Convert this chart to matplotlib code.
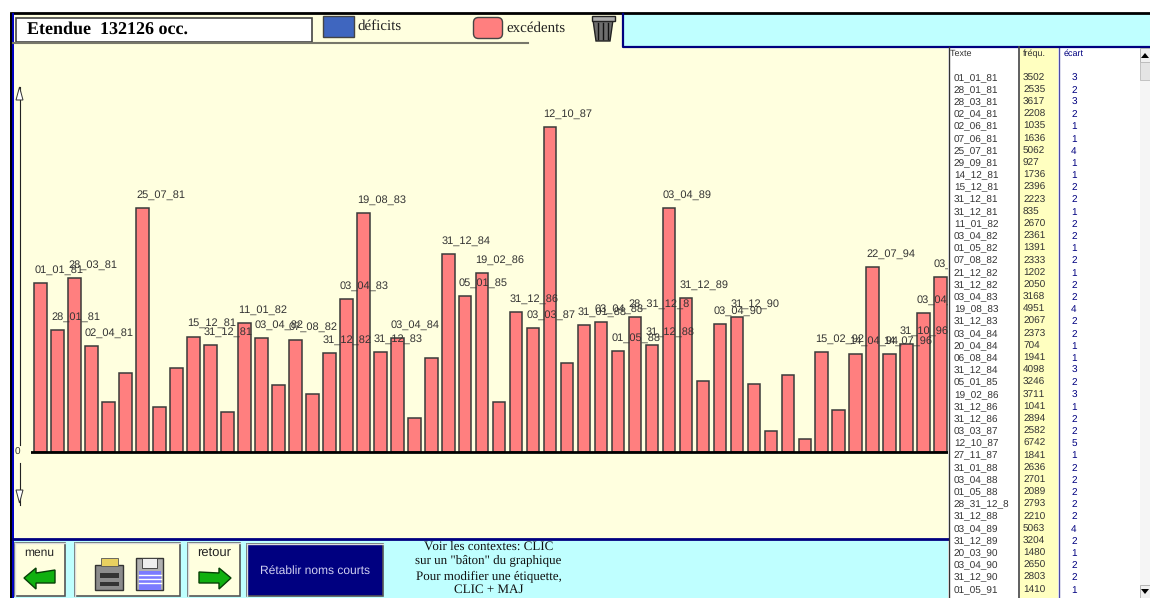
import matplotlib
matplotlib.use('Agg')
import matplotlib.pyplot as plt
from matplotlib.patches import Rectangle, FancyBboxPatch, Polygon

# valeurs lues dans le tableau de droite
textes = ['01_01_81', '28_01_81', '28_03_81', '02_04_81', '02_06_81', '07_06_81', '25_07_81', '29_09_81',
          '14_12_81', '15_12_81', '31_12_81', '31_12_81', '11_01_82', '03_04_82', '01_05_82', '07_08_82',
          '21_12_82', '31_12_82', '03_04_83', '19_08_83', '31_12_83', '03_04_84', '20_04_84', '06_08_84',
          '31_12_84', '05_01_85', '19_02_86', '31_12_86', '31_12_86', '03_03_87', '12_10_87', '27_11_87',
          '31_01_88', '03_04_88', '01_05_88', '28_31_12_8', '31_12_88', '03_04_89', '31_12_89', '20_03_90',
          '03_04_90', '31_12_90', '01_05_91']
frequ = [3502, 2535, 3617, 2208, 1035, 1636, 5062, 927, 1736, 2396, 2223, 835, 2670, 2361, 1391, 2333,
         1202, 2050, 3168, 4951, 2067, 2373, 704, 1941, 4098, 3246, 3711, 1041, 2894, 2582, 6742, 1841,
         2636, 2701, 2089, 2793, 2210, 5063, 3204, 1480, 2650, 2803, 1410]
ecart = [3, 2, 3, 2, 1, 1, 4, 1, 1, 2, 2, 1, 2, 2, 1, 2, 1, 2, 2, 4, 2, 2, 1, 1, 3, 2, 3, 1, 2, 2, 5, 1,
         2, 2, 2, 2, 2, 4, 2, 1, 2, 2, 1]

# batons hors du tableau visible (hauteurs estimees sur le graphique)
autres_noms = ['', '', '', '15_02_92', '', '14_04_94', '22_07_94', '14_07_96', '31_10_96', '03_04_97', '03_04_97']
autres_val = [430, 1600, 275, 2075, 865, 2025, 3840, 2025, 2250, 2885, 3630]
autres_ecart = [1, 1, 1, 2, 1, 2, 3, 2, 2, 2, 3]

noms = textes + autres_noms
valeurs = frequ + autres_val
ecarts = ecart + autres_ecart

CYAN = '#BFFFFF'
JAUNE = '#FFFFDF'
ROSE = '#FF7F7F'
NAVY = '#000080'

plt.rcParams['font.family'] = ['Liberation Sans', 'DejaVu Sans']
plt.rcParams['text.hinting'] = 'no_hinting'
plt.rcParams['text.hinting_factor'] = 1

fig = plt.figure(figsize=(11.5, 5.98), dpi=100, facecolor='white')

# fond : un axe en pixels pour l'interface
ui = fig.add_axes([0, 0, 1, 1])
ui.set_xlim(0, 1150)
ui.set_ylim(598, 0)
ui.axis('off')


def rect(x0, y0, x1, y1, fc, ec='none', lw=0, z=1):
    ui.add_patch(Rectangle((x0, y0), x1 - x0, y1 - y0, fc=fc, ec=ec, lw=lw, zorder=z))


def bouton(x0, y0, x1, y1, fc=JAUNE):
    rect(x0, y0, x1, y1, fc, ec='#555555', lw=1.2, z=3)
    ui.plot([x0, x1], [y0, y0], color='#DDDDDD', lw=1, zorder=4)
    ui.plot([x0, x0], [y0, y1], color='#DDDDDD', lw=1, zorder=4)


rect(13, 14, 948, 539, JAUNE)
rect(13, 539, 948, 598, CYAN)
rect(623, 14, 1150, 47, CYAN)
rect(949, 47, 1140, 598, 'white')
rect(1020, 47, 1058, 598, '#FFFFC0')
rect(1140, 47, 1150, 598, '#F5F5F5')

# cadres
ui.plot([10.5, 1150], [13, 13], color='black', lw=2, zorder=5)
rect(10, 13, 12, 598, 'black', z=5)
rect(12, 13, 13.5, 598, '#0000C0', z=5)
ui.plot([13, 948], [538.5, 538.5], color=NAVY, lw=2, zorder=5)
ui.plot([623, 623, 1150], [14, 46.5, 46.5], color=NAVY, lw=1.6, zorder=5)
ui.plot([13, 528], [43, 43], color='#77776A', lw=1.5, zorder=5)
ui.plot([948.5, 948.5], [47, 598], color='#333333', lw=1, zorder=5)
ui.plot([1019, 1019], [47, 598], color='#444444', lw=1.2, zorder=5)
ui.plot([1059, 1059], [47, 598], color=NAVY, lw=1, alpha=.7, zorder=5)

# titre et legende
rect(16, 18, 312, 42, 'white', ec='#444444', lw=1.2, z=3)
ui.text(27, 29, 'Etendue  132126 occ.', family='Liberation Serif', weight='bold', fontsize=12.9,
        color='black', va='center', zorder=6)
rect(323, 16, 354, 37, '#3F66BF', ec='#444444', lw=1, z=3)
ui.text(357.5, 26, 'déficits', family='Liberation Serif', fontsize=10.6, color='#222222', va='center', zorder=6)
ui.add_patch(FancyBboxPatch((476, 20), 24, 16, boxstyle='round,pad=2.5,rounding_size=5', fc=ROSE, ec='#444444',
                            lw=1, zorder=3))
ui.text(506, 28, 'excédents', family='Liberation Serif', fontsize=10.6, color='#222222', va='center', zorder=6)

# corbeille
ui.add_patch(Polygon([(593, 20), (613, 20), (610, 41), (596, 41)], fc='#6E6E6E', ec='#222222', lw=1, zorder=4))
ui.add_patch(Rectangle((591.5, 16), 23, 4.5, fc='#AAAAAA', ec='#222222', lw=1, zorder=5))
for xb in [598, 603, 608]:
    ui.plot([xb, xb], [23, 39], color='#111111', lw=1, zorder=5)

# axe vertical
ui.plot([19.5, 19.5], [87, 445], color='#222222', lw=.8, zorder=3)
ui.plot([19.5, 19.5], [463, 505], color='#222222', lw=.8, zorder=3)
ui.add_patch(Polygon([(19.5, 87), (16, 100), (23, 100)], fc='white', ec='#333333', lw=.7, zorder=3))
ui.add_patch(Polygon([(19.5, 503), (16, 490), (23, 490)], fc='white', ec='#333333', lw=.7, zorder=3))
ui.text(17, 452, '0', fontsize=7, color='#333333', ha='center', va='center', zorder=6)

# boutons du bas
bouton(15, 543, 65, 596)
bouton(75, 543, 180, 596)
bouton(188, 543, 240, 596)
bouton(247, 544, 383, 596, NAVY)
ui.text(39.5, 553, 'menu', fontsize=8.7, color='#222222', ha='center', va='center', zorder=6)
ui.text(214, 553, 'retour', fontsize=9, color='#222222', ha='center', va='center', zorder=6)
ui.text(315, 571, 'Rétablir noms courts', fontsize=8.8, color='#D0D0F0', ha='center', va='center', zorder=6)
ui.add_patch(Polygon([(24, 578), (36, 568), (36, 573), (55, 570), (55, 583), (36, 583), (36, 589)],
                     fc='#10B010', ec='#064006', lw=1, zorder=5))
ui.add_patch(Polygon([(231, 578), (219, 568), (219, 573), (199, 572), (199, 583), (219, 583), (219, 589)],
                     fc='#10B010', ec='#064006', lw=1, zorder=5))
# imprimante et disquette
rect(95, 565, 123, 590, '#8C8C8C', ec='#333333', lw=1, z=5)
rect(101, 558, 118, 566, '#E8D060', ec='#555555', lw=.6, z=5)
rect(100, 573, 119, 578, '#333333', z=6)
rect(100, 582, 119, 586, '#333333', z=6)
rect(136, 558, 163, 590, '#B0B0B0', ec='#333333', lw=1, z=5)
rect(142, 558, 157, 568, '#EEEEEE', ec='#333333', lw=.6, z=6)
rect(139, 571, 161, 590, '#7B7BFF', z=6)
for yl in [575, 579, 583]:
    ui.plot([139, 161], [yl, yl], color='white', lw=1, zorder=7)

for yt, t in zip([547, 560, 576, 590],
                 ['Voir les contextes: CLIC', 'sur un "bâton" du graphique',
                  'Pour modifier une étiquette,', 'CLIC + MAJ']):
    ui.text(488.5, yt, t, family='Liberation Serif', fontsize=9, color='#111111', ha='center', va='center', zorder=6)

# tableau
ui.text(950, 54, 'Texte', fontsize=6.8, color='#333333', va='center', zorder=6)
ui.text(1023, 54, 'fréqu.', fontsize=6.8, color='#333333', va='center', zorder=6)
ui.text(1064, 54, 'écart', fontsize=6.8, color=NAVY, va='center', zorder=6)
for i, (t, f, e) in enumerate(zip(textes, frequ, ecart)):
    y = 78 + i * 12.19
    ui.text(954, y, t, fontsize=7.3, color='#333333', va='center', zorder=6)
    ui.text(1023, y, str(f), fontsize=7.3, color='#333333', va='center', zorder=6)
    ui.text(1074, y, str(e), fontsize=7.3, color=NAVY, ha='center', va='center', zorder=6)

# ascenseur
rect(1140, 48, 1150, 62, '#F0F0F0', ec='#AAAAAA', lw=.6, z=5)
rect(1140, 62, 1150, 80, '#E4E4E4', ec='#BBBBBB', lw=.6, z=5)
rect(1140, 585, 1150, 598, '#F0F0F0', ec='#AAAAAA', lw=.6, z=5)
ui.add_patch(Polygon([(1141, 58), (1149, 58), (1145, 53)], fc='black', zorder=6))
ui.add_patch(Polygon([(1141, 589), (1149, 589), (1145, 594)], fc='black', zorder=6))

# graphique : zero a y=452 px, 6742 a y=127 px, un baton tous les 16.98 px
PAS = 16.98
ECH = (452 - 127) / 6742
ax = fig.add_axes([31 / 1150, 1 - 538 / 598, (948 - 31) / 1150, (538 - 44) / 598])
ax.set_xlim((31 - 40.7) / PAS, (948 - 40.7) / PAS)
ax.set_ylim((452 - 538) / ECH, (452 - 44) / ECH)
ax.patch.set_alpha(0)
ax.axis('off')

x = list(range(len(valeurs)))
ax.bar(x, valeurs, width=0.74, color=ROSE, edgecolor='#3A3A3A', linewidth=1.1, zorder=2)
ax.axhline(0, color='black', lw=2, zorder=3)
for i, nom in enumerate(noms):
    if ecarts[i] >= 2 and nom:
        t = ax.annotate(nom, (i - 0.39, valeurs[i]), xytext=(0, 9.4), textcoords='offset points',
                        fontsize=7.6, color='#333333', ha='left', va='center', zorder=4)
        t.set_clip_on(True)
        t.set_clip_box(ax.bbox)

fig.savefig('out.png', dpi=100)
